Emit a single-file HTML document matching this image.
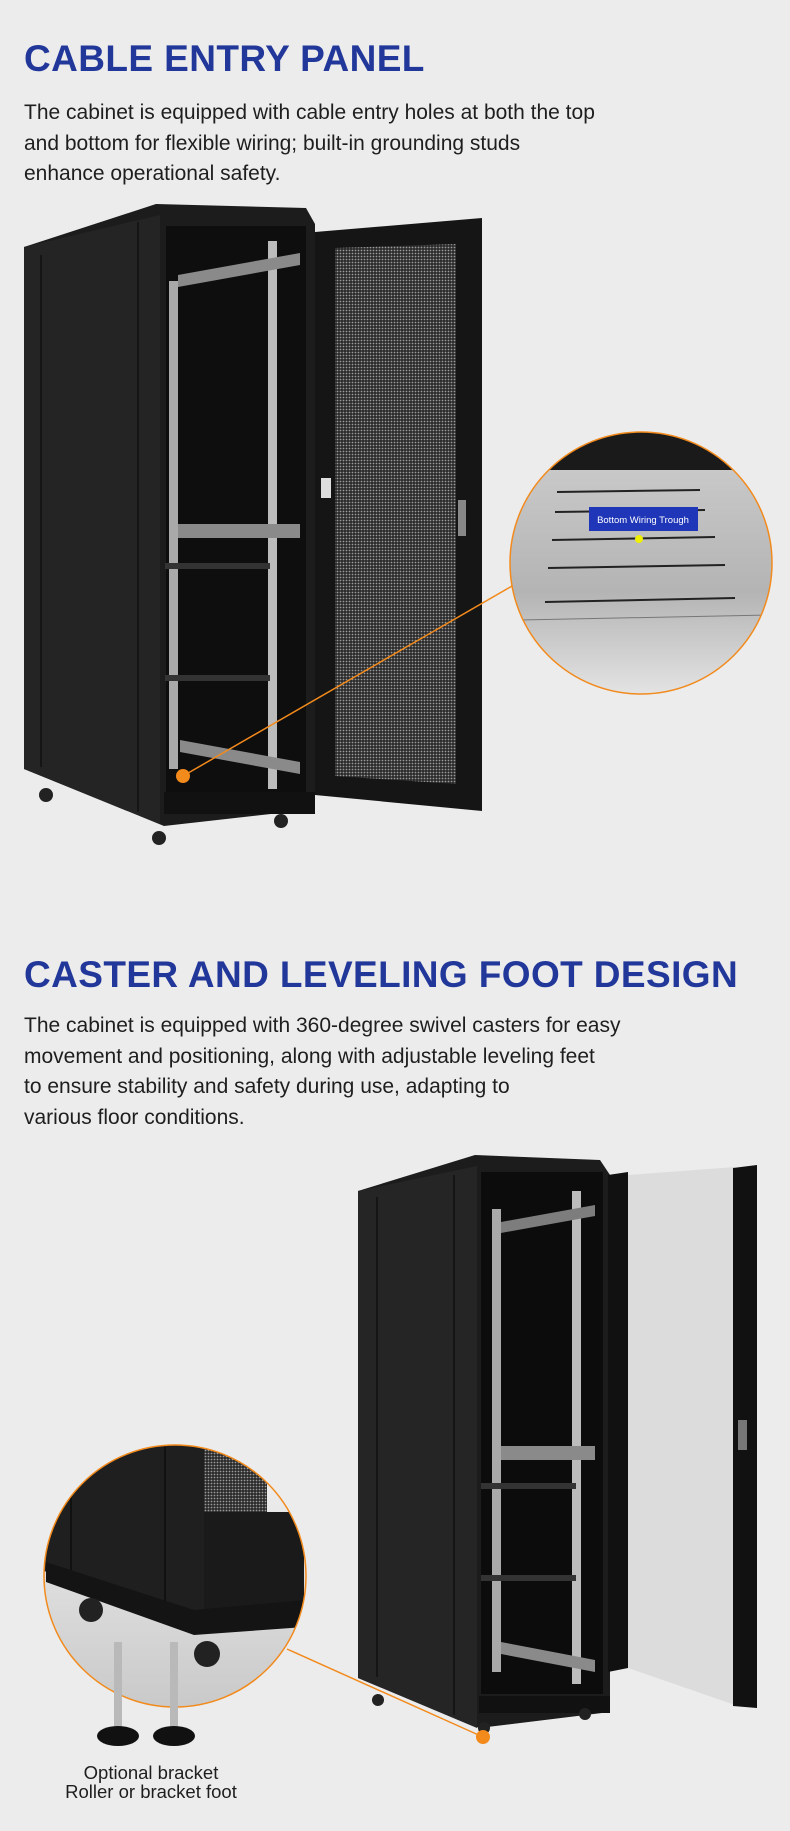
<!DOCTYPE html>
<html><head><meta charset="utf-8"><style>
html,body{margin:0;padding:0;background:#ececec;}
body{width:790px;height:1831px;position:relative;overflow:hidden;font-family:"Liberation Sans",sans-serif;}
.h{position:absolute;left:24px;margin:0;color:#22379a;font-weight:bold;font-size:37px;letter-spacing:0.4px;white-space:nowrap;line-height:40px;}
.p{position:absolute;left:24px;color:#1e1e1e;font-size:21px;line-height:30.5px;width:720px;}
svg{position:absolute;left:0;top:0;}
</style></head><body>
<div class="h" style="top:39px">CABLE ENTRY PANEL</div>
<div class="p" style="top:98px">The cabinet is equipped with cable entry holes at both the top<br>and bottom for flexible wiring; built-in grounding studs<br>enhance operational safety.</div>
<div class="h" style="top:955px">CASTER AND LEVELING FOOT DESIGN</div>
<div class="p" style="top:1011px">The cabinet is equipped with 360-degree swivel casters for easy<br>movement and positioning, along with adjustable leveling feet<br>to ensure stability and safety during use, adapting to<br>various floor conditions.</div>

<svg width="790" height="1831" viewBox="0 0 790 1831">
<defs>
<pattern id="mesh" width="3" height="3" patternUnits="userSpaceOnUse"><rect width="3" height="3" fill="#2a2a2a"/><circle cx="1.5" cy="1.5" r="0.9" fill="#9a9a9a"/></pattern>
<linearGradient id="zg" x1="0" y1="0" x2="0" y2="1"><stop offset="0" stop-color="#2a2a2a"/><stop offset="0.15" stop-color="#c8c8c8"/><stop offset="0.6" stop-color="#b4b4b4"/><stop offset="1" stop-color="#e6e6e6"/></linearGradient>
<linearGradient id="fl" x1="0" y1="0" x2="0" y2="1"><stop offset="0" stop-color="#f4f4f4"/><stop offset="1" stop-color="#c8c8c8"/></linearGradient>
<clipPath id="c1"><circle cx="641" cy="563" r="131"/></clipPath>
<clipPath id="c2"><ellipse cx="175" cy="1576" rx="131" ry="131"/></clipPath>
</defs>

<!-- Cabinet 1 -->
<polygon points="24,247 156,204 306,208 315,224 315,809 164,826 24,769" fill="#1c1c1c"/>
<polygon points="24,247 160,215 160,824 24,769" fill="#242424"/>
<rect x="40" y="255" width="2" height="512" fill="#151515"/>
<rect x="137" y="222" width="2" height="590" fill="#151515"/>
<rect x="166" y="226" width="140" height="566" fill="#0e0e0e"/>
<rect x="169" y="281" width="9" height="488" fill="#a9a9a9"/>
<rect x="268" y="241" width="9" height="548" fill="#bcbcbc"/>
<polygon points="178,275 300,253 300,265 178,287" fill="#8a8a8a"/>
<rect x="178" y="524" width="122" height="14" fill="#8a8a8a"/>
<rect x="165" y="563" width="105" height="6" fill="#333"/>
<rect x="165" y="675" width="105" height="6" fill="#333"/>
<polygon points="180,740 300,762 300,774 180,752" fill="#8a8a8a"/>
<rect x="164" y="792" width="151" height="22" fill="#111"/>
<circle cx="46" cy="795" r="7" fill="#222"/><circle cx="159" cy="838" r="7" fill="#222"/><circle cx="281" cy="821" r="7" fill="#222"/>
<!-- door 1 -->
<polygon points="315,232 482,218 482,811 315,795" fill="#151515"/>
<polygon points="335,248 456,244 456,784 335,776" fill="url(#mesh)"/>
<rect x="321" y="478" width="10" height="20" fill="#ddd"/>
<rect x="458" y="500" width="8" height="36" fill="#888"/>

<!-- zoom circle 1 -->
<line x1="183" y1="776" x2="512" y2="586" stroke="#f28a1c" stroke-width="1.5"/>
<circle cx="183" cy="776" r="7" fill="#f28a1c"/>
<g clip-path="url(#c1)">
<rect x="500" y="430" width="290" height="270" fill="url(#zg)"/>
<rect x="500" y="430" width="290" height="40" fill="#1a1a1a"/>
<line x1="557" y1="492" x2="700" y2="490" stroke="#222" stroke-width="2"/>
<line x1="555" y1="512" x2="705" y2="510" stroke="#222" stroke-width="2"/>
<line x1="552" y1="540" x2="715" y2="537" stroke="#222" stroke-width="2"/>
<line x1="548" y1="568" x2="725" y2="565" stroke="#222" stroke-width="2"/>
<line x1="545" y1="602" x2="735" y2="598" stroke="#222" stroke-width="2"/>
<line x1="520" y1="620" x2="770" y2="615" stroke="#777" stroke-width="1"/>
</g>
<circle cx="641" cy="563" r="131" fill="none" stroke="#f28a1c" stroke-width="1.5"/>
<rect x="589" y="507" width="109" height="24" fill="#1f36b8"/>
<text x="643" y="523" font-family="Liberation Sans,sans-serif" font-size="9.5" fill="#fff" text-anchor="middle">Bottom Wiring Trough</text>
<circle cx="639" cy="539" r="4" fill="#eef000"/>

<!-- Cabinet 2 -->
<polygon points="358,1191 475,1155 600,1160 610,1175 610,1712 479,1728 358,1678" fill="#1c1c1c"/>
<polygon points="358,1191 477,1166 477,1728 358,1678" fill="#252525"/>
<rect x="376" y="1197" width="2" height="480" fill="#151515"/>
<rect x="453" y="1175" width="2" height="540" fill="#151515"/>
<rect x="481" y="1172" width="122" height="522" fill="#0c0c0c"/>
<rect x="492" y="1209" width="9" height="463" fill="#a9a9a9"/>
<rect x="572" y="1191" width="9" height="493" fill="#bcbcbc"/>
<polygon points="501,1222 595,1205 595,1216 501,1233" fill="#7d7d7d"/>
<rect x="501" y="1446" width="94" height="14" fill="#8a8a8a"/>
<rect x="481" y="1483" width="95" height="6" fill="#333"/>
<rect x="481" y="1575" width="95" height="6" fill="#333"/>
<polygon points="501,1642 595,1660 595,1672 501,1654" fill="#8a8a8a"/>
<rect x="479" y="1696" width="131" height="17" fill="#111"/>
<circle cx="378" cy="1700" r="6" fill="#222"/><circle cx="484" cy="1728" r="6" fill="#222"/><circle cx="585" cy="1714" r="6" fill="#222"/>
<!-- door 2 -->
<polygon points="608,1175 628,1172 628,1668 608,1672" fill="#111"/>
<polygon points="628,1175 735,1167 735,1705 628,1668" fill="#dcdcdc"/>
<polygon points="733,1168 757,1165 757,1708 733,1706" fill="#111"/>
<rect x="738" y="1420" width="9" height="30" fill="#777"/>

<!-- zoom circle 2 -->
<line x1="287" y1="1649" x2="483" y2="1737" stroke="#f28a1c" stroke-width="1.5"/>
<circle cx="483" cy="1737" r="7" fill="#f28a1c"/>
<g clip-path="url(#c2)">
<rect x="40" y="1440" width="280" height="275" fill="url(#fl)"/>
<polygon points="40,1440 205,1440 205,1615 40,1570" fill="#1f1f1f"/>
<rect x="70" y="1450" width="2" height="120" fill="#111"/>
<rect x="164" y="1445" width="2" height="160" fill="#111"/>
<rect x="204" y="1449" width="63" height="63" fill="url(#mesh)"/>
<rect x="204" y="1512" width="100" height="100" fill="#1a1a1a"/>
<polygon points="46,1562 194,1610 305,1600 305,1627 194,1635 46,1582" fill="#141414"/>
<circle cx="91" cy="1610" r="12" fill="#222"/><circle cx="207" cy="1654" r="13" fill="#222"/>
</g>
<ellipse cx="175" cy="1576" rx="131" ry="131" fill="none" stroke="#f28a1c" stroke-width="1.5"/>
<!-- bolts -->
<rect x="114" y="1642" width="8" height="90" fill="#b9b9b9"/>
<rect x="170" y="1642" width="8" height="90" fill="#b9b9b9"/>
<ellipse cx="118" cy="1736" rx="21" ry="10" fill="#111"/>
<ellipse cx="174" cy="1736" rx="21" ry="10" fill="#111"/>
<text x="151" y="1779" font-family="Liberation Sans,sans-serif" font-size="18.5" fill="#1e1e1e" text-anchor="middle">Optional bracket</text>
<text x="151" y="1798" font-family="Liberation Sans,sans-serif" font-size="18.5" fill="#1e1e1e" text-anchor="middle">Roller or bracket foot</text>
</svg>
</body></html>
